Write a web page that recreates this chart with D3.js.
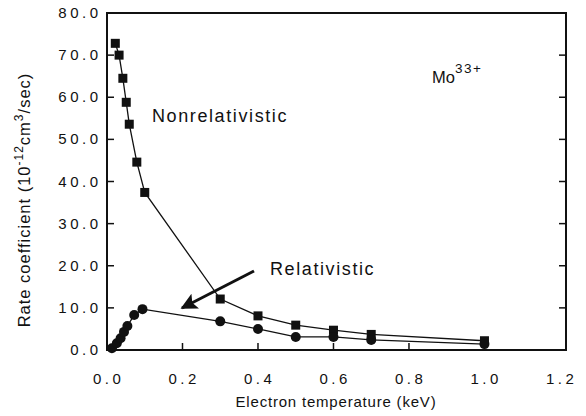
<!DOCTYPE html>
<html lang="en">
<head>
<meta charset="UTF-8">
<title>Mo33+ rate coefficient</title>
<script src="https://d3js.org/d3.v7.min.js"></script>
<style>
  body { margin: 0; background: #fff; }
  svg { font-family: "Liberation Sans", Arial, sans-serif; }
  .tick-label { font-size: 15px; letter-spacing: 3.5px; fill: #111; }
</style>
</head>
<body>
<svg id="chart" width="586" height="416"></svg>
<script>
// values
const nonrelT = [0.022, 0.032, 0.042, 0.051, 0.059, 0.079, 0.10, 0.30, 0.40, 0.50, 0.60, 0.70, 1.00];
const nonrelRate = [72.8, 70.0, 64.5, 58.8, 53.6, 44.6, 37.4, 12.1, 8.1, 5.9, 4.7, 3.7, 2.2];
const relT = [0.013, 0.026, 0.036, 0.045, 0.054, 0.072, 0.094, 0.30, 0.40, 0.50, 0.60, 0.70, 1.00];
const relRate = [0.4, 1.6, 2.8, 4.3, 5.7, 8.3, 9.7, 6.8, 5.0, 3.1, 3.1, 2.4, 1.4];
const xTicks = [0, 0.2, 0.4, 0.6, 0.8, 1.0, 1.2];
const yTicks = [0, 10, 20, 30, 40, 50, 60, 70, 80];

const svg = d3.select("#chart");
const plotLeft = 107, plotRight = 566, plotTop = 13, plotBottom = 350;

const x = d3.scaleLinear().domain([0, 1.216]).range([plotLeft, plotRight]);
const y = d3.scaleLinear().domain([0, 80]).range([plotBottom, plotTop]);

// frame
svg.append("rect")
  .attr("x", plotLeft).attr("y", plotTop)
  .attr("width", plotRight - plotLeft).attr("height", plotBottom - plotTop)
  .attr("fill", "none").attr("stroke", "#111").attr("stroke-width", 2);

// inward ticks
svg.append("g").selectAll("line").data(xTicks.slice(1, -1)).enter().append("line")
  .attr("x1", d => x(d)).attr("x2", d => x(d))
  .attr("y1", plotBottom).attr("y2", plotBottom - 7)
  .attr("stroke", "#111").attr("stroke-width", 1.5);
svg.append("g").selectAll("line").data(yTicks.slice(1, -1)).enter().append("line")
  .attr("x1", plotLeft).attr("x2", plotLeft + 7)
  .attr("y1", d => y(d)).attr("y2", d => y(d))
  .attr("stroke", "#111").attr("stroke-width", 1.5);
svg.append("g").selectAll("line").data(yTicks.slice(1, -1)).enter().append("line")
  .attr("x1", plotRight).attr("x2", plotRight - 7)
  .attr("y1", d => y(d)).attr("y2", d => y(d))
  .attr("stroke", "#111").attr("stroke-width", 1.5);

// tick labels (letter-spacing also pads the end, so nudge by half / whole of it)
svg.append("g").selectAll("text").data(xTicks).enter().append("text")
  .attr("class", "tick-label")
  .attr("x", d => x(d) + 1.7).attr("y", 384)
  .attr("text-anchor", "middle")
  .text(d => d3.format(".1f")(d));
svg.append("g").selectAll("text").data(yTicks).enter().append("text")
  .attr("class", "tick-label")
  .attr("x", 101.5).attr("y", d => y(d) + 5)
  .attr("text-anchor", "end")
  .text(d => d3.format(".1f")(d));

// axis titles
svg.append("text")
  .attr("x", 336).attr("y", 407)
  .attr("text-anchor", "middle")
  .attr("font-size", 15).attr("letter-spacing", 0.8).attr("fill", "#111")
  .text("Electron temperature (keV)");

const yTitle = svg.append("text")
  .attr("transform", "translate(30,200) rotate(-90)")
  .attr("text-anchor", "middle")
  .attr("font-size", 16.5).attr("letter-spacing", 1).attr("fill", "#111");
yTitle.append("tspan").text("Rate coefficient (10");
yTitle.append("tspan").attr("dy", -7).attr("font-size", 12).text("-12");
yTitle.append("tspan").attr("dy", 7).text("cm");
yTitle.append("tspan").attr("dy", -7).attr("font-size", 12).text("3");
yTitle.append("tspan").attr("dy", 7).text("/sec)");

// curves
const line = d3.line().x(d => x(d[0])).y(d => y(d[1]));
const nonrel = nonrelT.map((t, i) => [t, nonrelRate[i]]);
const rel = relT.map((t, i) => [t, relRate[i]]);

svg.append("path").datum(nonrel).attr("d", line)
  .attr("fill", "none").attr("stroke", "#111").attr("stroke-width", 1.3);
svg.append("path").datum(rel).attr("d", line)
  .attr("fill", "none").attr("stroke", "#111").attr("stroke-width", 1.3);

svg.append("g").selectAll("rect").data(nonrel).enter().append("rect")
  .attr("x", d => x(d[0]) - 4.5).attr("y", d => y(d[1]) - 4.5)
  .attr("width", 9).attr("height", 9).attr("fill", "#111");
svg.append("g").selectAll("circle").data(rel).enter().append("circle")
  .attr("cx", d => x(d[0])).attr("cy", d => y(d[1]))
  .attr("r", 5).attr("fill", "#111");

// annotations
svg.append("text")
  .attr("x", 152).attr("y", 122)
  .attr("font-size", 18).attr("letter-spacing", 1.6).attr("fill", "#111")
  .text("Nonrelativistic");
svg.append("text")
  .attr("x", 270).attr("y", 275)
  .attr("font-size", 18).attr("letter-spacing", 1.6).attr("fill", "#111")
  .text("Relativistic");

const mo = svg.append("text")
  .attr("x", 432).attr("y", 83)
  .attr("font-size", 16.5).attr("fill", "#111");
mo.append("tspan").text("Mo");
mo.append("tspan").attr("dy", -10).attr("font-size", 13.5).attr("letter-spacing", 1.5).text("33+");

// arrow pointing at the relativistic curve
svg.append("defs").append("marker")
  .attr("id", "head")
  .attr("viewBox", "0 0 10 10")
  .attr("refX", 9).attr("refY", 5)
  .attr("markerWidth", 8).attr("markerHeight", 5.5)
  .attr("markerUnits", "strokeWidth")
  .attr("orient", "auto")
  .append("path").attr("d", "M0,0 L10,5 L0,10 L2,5 Z").attr("fill", "#111");
svg.append("line")
  .attr("x1", 254).attr("y1", 271)
  .attr("x2", 182).attr("y2", 308)
  .attr("stroke", "#111").attr("stroke-width", 3)
  .attr("marker-end", "url(#head)");
</script>
</body>
</html>
